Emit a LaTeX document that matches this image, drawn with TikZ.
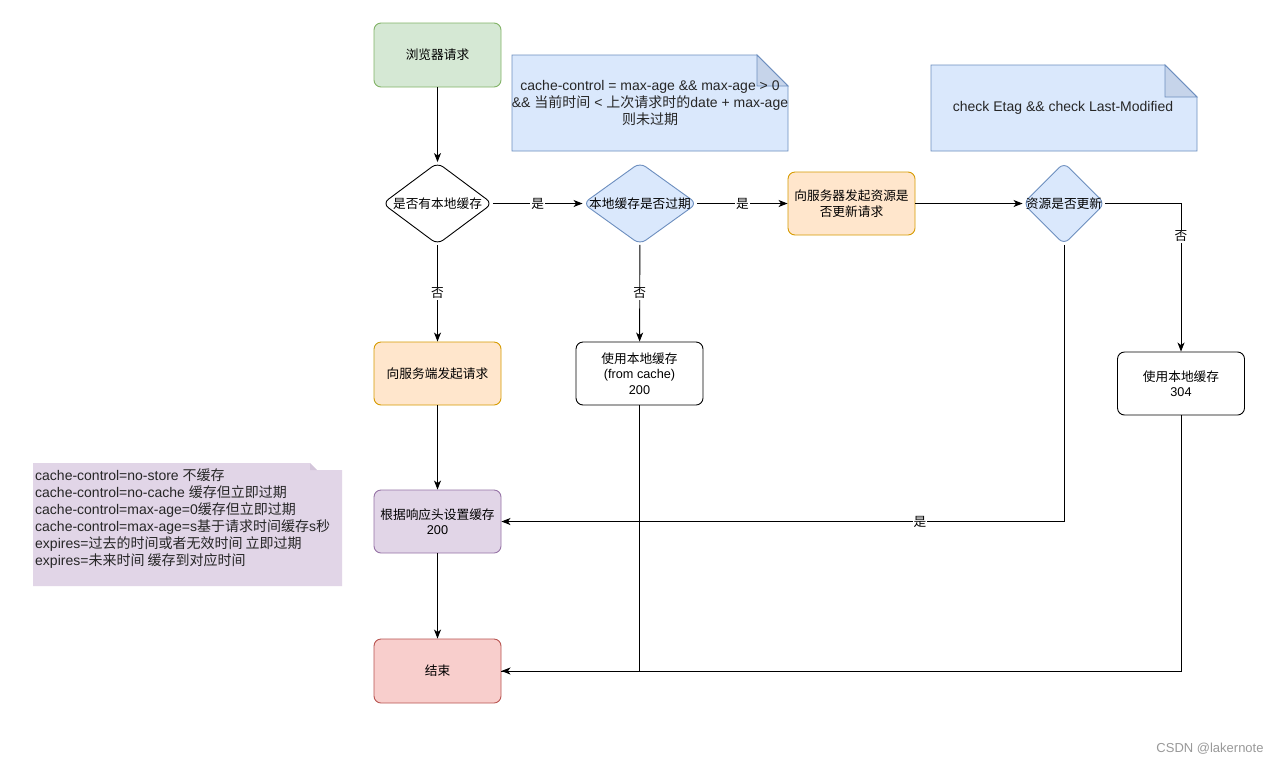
\documentclass[tikz,border=0pt]{standalone}
\usepackage{fontspec}
\setmainfont{Liberation Sans}
\newfontfamily\cjk{Noto Sans CJK SC}
\usetikzlibrary{shapes.geometric,arrows.meta}
\newcommand\zh[1]{{\cjk #1}}
\newcommand\nodefont{\fontsize{12.7}{15.5}\selectfont}
\newcommand\notefont{\fontsize{14}{16.8}\selectfont}
\definecolor{gF}{HTML}{D5E8D4}\definecolor{gS}{HTML}{82B366}
\definecolor{bF}{HTML}{DAE8FC}\definecolor{bS}{HTML}{6C8EBF}
\definecolor{oF}{HTML}{FFE6CC}\definecolor{oS}{HTML}{D79B00}
\definecolor{pF}{HTML}{E1D5E7}\definecolor{pS}{HTML}{9673A6}
\definecolor{rF}{HTML}{F8CECC}\definecolor{rS}{HTML}{B85450}
\definecolor{bFold}{HTML}{C6D4EA}\definecolor{pFold}{HTML}{D3C5DA}
\begin{document}
\begin{tikzpicture}[x=1pt,y=-1pt,
  box/.style={draw, rounded corners=7pt, minimum width=127pt, minimum height=63pt, align=center, font=\nodefont, line width=0.9pt, inner sep=1pt},
  dia/.style={diamond, draw, rounded corners=7pt, inner sep=0pt, line width=0.9pt, font=\nodefont},
  lbl/.style={fill=white, inner sep=1pt, font=\nodefont},
  arr/.style={-{Stealth[length=9pt,width=7pt,inset=2.5pt]}, line width=0.9pt},
  conn/.style={line width=0.9pt}]
\useasboundingbox (0,0) rectangle (1284,764);
\fill[white] (0,0) rectangle (1284,764);

% notes
\draw[fill=bF, draw=bS, line width=0.9pt] (512,55) -- (757,55) -- (788,86) -- (788,151) -- (512,151) -- cycle;
\draw[fill=bFold, draw=bS, line width=0.9pt] (757,55) -- (757,86) -- (788,86) -- cycle;
\node[align=center, font=\notefont, text=black!85] (n1) at (650,103) {cache-control = max-age \&\& max-age > 0\\\&\& \zh{当前时间} < \zh{上次请求时的}date + max-age\\\zh{则未过期}};

\draw[fill=bF, draw=bS, line width=0.9pt] (931,65) -- (1165,65) -- (1197,97) -- (1197,151) -- (931,151) -- cycle;
\draw[fill=bFold, draw=bS, line width=0.9pt] (1165,65) -- (1165,97) -- (1197,97) -- cycle;
\node[font=\notefont, text=black!85] (n2) at (1063,108) {check Etag \&\& check Last-Modified};

\fill[pF] (33,463) -- (310,463) -- (317,470) -- (342,470) -- (342,586) -- (33,586) -- cycle;
\fill[pFold] (310,463) -- (310,470) -- (317,470) -- cycle;
\node[anchor=north west, align=left, font=\fontsize{14}{17}\selectfont, text=black!85, inner sep=0pt] (n3) at (35,469) {cache-control=no-store \zh{不缓存}\\
cache-control=no-cache \zh{缓存但立即过期}\\
cache-control=max-age=0\zh{缓存但立即过期}\\
cache-control=max-age=s\zh{基于请求时间缓存}s\zh{秒}\\
expires=\zh{过去的时间或者无效时间 立即过期}\\
expires=\zh{未来时间 缓存到对应时间}};

% nodes
\node[box, fill=gF, draw=gS, minimum height=64pt] (start) at (437.5,55) {\zh{浏览器请求}};
\node[dia, minimum width=110pt, minimum height=82pt, fill=white, draw=black] (d1) at (437.5,203.5) {\makebox[0pt]{\zh{是否有本地缓存}}};
\node[dia, minimum width=114pt, minimum height=82pt, fill=bF, draw=bS] (d2) at (640,203.5) {\makebox[0pt]{\zh{本地缓存是否过期}}};
\node[box, fill=oF, draw=oS] (req) at (851.5,203.5) {\zh{向服务器发起资源是}\\\zh{否更新请求}};
\node[dia, minimum width=82pt, minimum height=82pt, fill=bF, draw=bS] (d3) at (1064,203.5) {\makebox[0pt]{\zh{资源是否更新}}};
\node[box, fill=oF, draw=oS] (srv) at (437.5,373.5) {\zh{向服务端发起请求}};
\node[box, fill=white, draw=black] (c200) at (639.5,373.5) {\zh{使用本地缓存}\\(from cache)\\200};
\node[box, fill=white, draw=black] (c304) at (1181,383.5) {\zh{使用本地缓存}\\304};
\node[box, fill=pF, draw=pS] (set) at (437.5,521.5) {\zh{根据响应头设置缓存}\\200};
\node[box, fill=rF, draw=rS, minimum height=64pt] (end) at (437.5,671) {\zh{结束}};

% connectors
\draw[arr] (start) -- (d1);
\draw[arr] (d1) -- node[lbl] {\zh{是}} (d2);
\draw[arr] (d2) -- node[lbl] {\zh{是}} (req);
\draw[arr] (req) -- (d3);
\draw[arr] (d3.east) -| node[lbl, pos=0.61] {\zh{否}} (c304.north);
\draw[arr] (d1) -- node[lbl] {\zh{否}} (srv);
\draw[arr] (d2) -- node[lbl] {\zh{否}} (c200);
\draw[arr] (srv) -- (set);
\draw[arr] (d3.south) |- node[lbl, pos=0.628] {\zh{是}} (set.east);
\draw[arr] (set) -- (end);
\draw[conn] (c200.south) |- (end.east);
\draw[arr] (c304.south) |- (end.east);

\node[font=\fontsize{13}{15}\selectfont, text=black!40] (wm) at (1210,749) {CSDN @lakernote};
\end{tikzpicture}
\end{document}
